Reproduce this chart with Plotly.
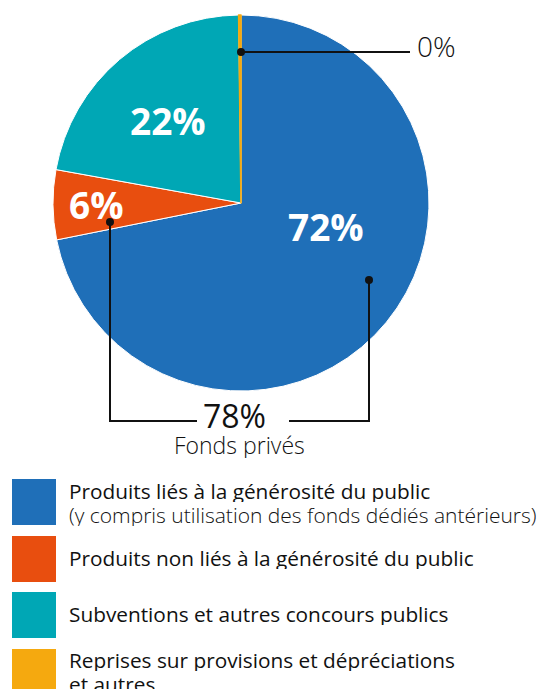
import plotly.graph_objects as go

W, H = 547, 689
OFF = 8  # page body margin

categories = [
    "Produits liés à la générosité du public",
    "Produits non liés à la générosité du public",
    "Subventions et autres concours publics",
    "Reprises sur provisions et dépréciations et autres",
]
shares = [72, 6, 22, 0.2]
colors = ["#1F6FB8", "#E84E0F", "#00A7B5", "#F5A90F"]
private_total = 78
private_label = "Fonds privés"

legend_lines = [
    ["Produits liés à la générosité du public", "(y compris utilisation des fonds dédiés antérieurs)"],
    ["Produits non liés à la générosité du public"],
    ["Subventions et autres concours publics"],
    ["Reprises sur provisions et dépréciations", "et autres"],
]

FONT = "Open Sans"

def px(x):
    return (x - OFF) / W

def py(y):
    return 1 - (y - OFF) / H

fig = go.Figure(go.Pie(
    labels=categories,
    values=shares,
    sort=False,
    direction="clockwise",
    rotation=0,
    textinfo="none",
    hoverinfo="label+percent",
    marker=dict(colors=colors,
                line=dict(color=["white", "white", "white", colors[3]], width=[1, 1, 1, 1.6])),
    domain=dict(x=[px(53), px(429)], y=[py(391), py(15)]),
    showlegend=False,
))

ann = []
shapes = []

def label(x, y, text, size, color="white", weight="bold", xanchor="center", height=None):
    a = dict(x=px(x), y=py(y), xref="paper", yref="paper", text=text, showarrow=False,
             xanchor=xanchor, yanchor="middle", borderpad=0,
             font=dict(family=FONT, size=size, color=color, weight=weight))
    if height:
        a["height"] = height
    ann.append(a)

# slice labels
label(326, 226, f"{shares[0]:.0f}%", 37)
label(96, 205, f"{shares[1]:.0f}%", 37)
label(168, 120, f"{shares[2]:.0f}%", 37)
label(416, 46, f"{shares[3]:.0f}%", 28, color="#111", weight=300, xanchor="left")
label(234, 415, f"{private_total}%", 32, color="#111", weight=500, height=30)
label(240, 445, private_label, 23, color="#111", weight=300, height=26)

def line(x0, y0, x1, y1):
    shapes.append(dict(type="line", xref="paper", yref="paper", x0=px(x0), y0=py(y0), x1=px(x1), y1=py(y1),
                       line=dict(color="#111", width=2)))

def dot(x, y, r=4):
    shapes.append(dict(type="circle", xref="paper", yref="paper", x0=px(x - r), x1=px(x + r),
                       y0=py(y + r), y1=py(y - r), fillcolor="#111", line=dict(width=0)))

# leader for 0%
line(241, 52, 410, 52)
dot(241, 52)
# bracket for private funds
line(110, 222, 110, 421)
line(109, 421, 197, 421)
line(289, 421, 370, 421)
line(369, 280, 369, 422)
dot(110, 222)
dot(369, 280)

# legend
box_tops = [479, 536, 592, 649]
text_ys = [[490, 514], [557], [613], [659, 683]]
for i, (top, lines_, ys) in enumerate(zip(box_tops, legend_lines, text_ys)):
    shapes.append(dict(type="rect", xref="paper", yref="paper", x0=px(12), x1=px(56),
                       y0=py(top + 46), y1=py(top), fillcolor=colors[i], line=dict(width=0)))
    for j, (t, yy) in enumerate(zip(lines_, ys)):
        w = 300 if (i == 0 and j == 1) else "normal"
        sz = 21 if (i == 0 and j == 1) else 20.8
        ann.append(dict(x=px(68), y=py(yy), xref="paper", yref="paper", text=t, showarrow=False,
                        xanchor="left", yanchor="middle", borderpad=0, height=23,
                        font=dict(family=FONT, size=sz, color="#111", weight=w)))

fig.update_layout(
    width=W, height=H,
    margin=dict(l=0, r=0, t=0, b=0),
    paper_bgcolor="white", plot_bgcolor="white",
    annotations=ann, shapes=shapes,
)

fig.write_html("out.html")
